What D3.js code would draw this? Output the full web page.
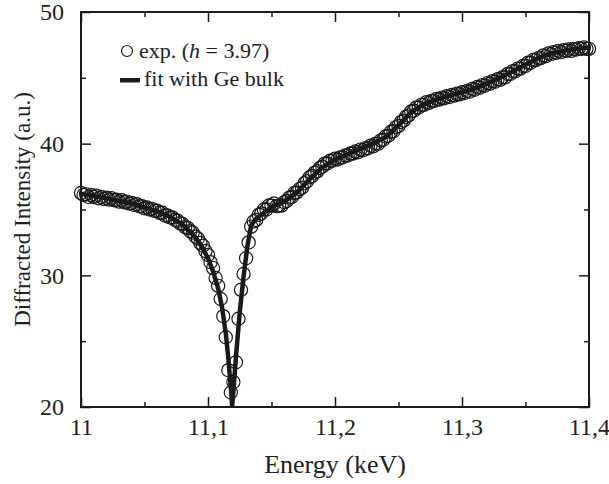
<!DOCTYPE html>
<html><head><meta charset="utf-8">
<script src="https://cdn.jsdelivr.net/npm/d3@7"></script>
<style>
html,body{margin:0;padding:0;background:#fff;}
svg{display:block;}
</style></head><body>
<svg id="chart" width="609" height="484"></svg>
<script>
// Experimental points: energy (eV) and diffracted intensity (a.u.)
const expEnergy = [
11000,11002,11004,11006,11008,11010,11012,11014,11016,11018,11020,11022,11024,11026,11028,11030,11032,11034,11036,11038,
11040,11042,11044,11046,11048,11050,11052,11054,11056,11058,11060,11062,11064,11066,11068,11070,11072,11074,11076,11078,
11080,11082,11084,11086,11088,11090,11092,11094,11096,11098,11100,11102,11104,11106,11108,11110,11112,11114,11116,11118,
11120,11122,11124,11126,11128,11130,11132,11134,11136,11138,11140,11142,11144,11146,11148,11150,11152,11154,11156,11158,
11160,11162,11164,11166,11168,11170,11172,11174,11176,11178,11180,11182,11184,11186,11188,11190,11192,11194,11196,11198,
11200,11202,11204,11206,11208,11210,11212,11214,11216,11218,11220,11222,11224,11226,11228,11230,11232,11234,11236,11238,
11240,11242,11244,11246,11248,11250,11252,11254,11256,11258,11260,11262,11264,11266,11268,11270,11272,11274,11276,11278,
11280,11282,11284,11286,11288,11290,11292,11294,11296,11298,11300,11302,11304,11306,11308,11310,11312,11314,11316,11318,
11320,11322,11324,11326,11328,11330,11332,11334,11336,11338,11340,11342,11344,11346,11348,11350,11352,11354,11356,11358,
11360,11362,11364,11366,11368,11370,11372,11374,11376,11378,11380,11382,11384,11386,11388,11390,11392,11394,11396,11398,
11400];
const expIntensity = [
36.25,36.1,36.15,35.95,36.1,35.95,36.05,35.85,35.95,35.8,35.9,35.75,35.85,35.7,35.75,35.6,35.7,35.55,35.6,35.45,
35.5,35.35,35.4,35.25,35.25,35.1,35.15,35.0,35.05,34.9,34.9,34.75,34.75,34.55,34.55,34.4,34.4,34.2,34.15,33.95,
33.9,33.65,33.6,33.35,33.25,32.95,32.8,32.45,32.25,31.85,31.55,31.0,30.55,29.8,29.2,28.2,26.9,25.3,22.8,21.1,
21.9,23.4,26.7,28.9,30.1,31.3,32.5,33.7,34.1,34.2,34.6,34.7,35.0,35.0,35.3,35.3,35.45,35.25,35.3,35.3,
35.55,35.65,35.9,35.95,36.25,36.3,36.55,36.65,37.0,37.15,37.45,37.55,37.8,37.9,38.15,38.25,38.5,38.5,38.7,38.7,
38.85,38.8,38.95,38.95,39.1,39.1,39.25,39.25,39.4,39.35,39.55,39.5,39.65,39.65,39.85,39.8,40.0,40.0,40.25,40.3,
40.55,40.6,40.9,40.95,41.25,41.35,41.65,41.75,42.05,42.15,42.45,42.5,42.75,42.75,42.95,42.95,43.15,43.1,43.25,43.25,
43.4,43.35,43.5,43.45,43.6,43.55,43.7,43.65,43.8,43.75,43.9,43.85,44.0,43.95,44.15,44.1,44.3,44.25,44.45,44.4,
44.6,44.55,44.75,44.7,44.9,44.85,45.05,45.05,45.3,45.3,45.5,45.5,45.7,45.7,45.9,45.9,46.15,46.15,46.35,46.35,
46.5,46.5,46.7,46.65,46.85,46.8,46.95,46.9,47.05,46.95,47.1,47.05,47.15,47.05,47.2,47.15,47.25,47.2,47.3,47.2,
47.2];
// Fit with Ge bulk
const fitEnergy = [11000,11020,11040,11060,11070,11080,11090,11095,11100,11104,11108,11111,11114,11116,11118,11119,
11120,11122,11125,11128,11131,11134,11137,11142,11150,11160,11170,11180,11190,11200,11210,11220,11230,11240,11250,
11260,11270,11280,11290,11300,11310,11320,11330,11340,11350,11360,11370,11380,11390,11400];
const fitIntensity = [36.2,35.85,35.45,34.85,34.45,33.85,32.9,32.2,31.3,30.3,29.0,27.6,25.6,23.7,21.4,20.1,
21.2,23.8,27.2,29.9,32.2,33.8,34.2,34.6,35.2,35.6,36.3,37.3,38.2,38.8,39.2,39.6,40.0,40.5,41.4,
42.4,43.0,43.35,43.65,43.9,44.2,44.6,45.0,45.5,46.0,46.5,46.85,47.05,47.2,47.3];
// Axes
const xMajorTicks = [11000,11100,11200,11300,11400];
const xTickLabels = ["11","11,1","11,2","11,3","11,4"];
const xMinorTicks = [11050,11150,11250,11350];
const yMajorTicks = [20,30,40,50];
const yMinorTicks = [25,35,45];

const svg = d3.select("#chart");
const L = 81, R = 589, T = 12, B = 407;
const x = d3.scaleLinear().domain([11000,11400]).range([L,R]);
const y = d3.scaleLinear().domain([20,50]).range([B,T]);
const ink = "#1a1a1a";
const FONT = "'Liberation Serif', Tinos, serif";

// fit line
const line = d3.line().x((d,i)=>x(fitEnergy[i])).y((d,i)=>y(fitIntensity[i]));
svg.append("path").datum(fitIntensity).attr("d",line)
  .attr("fill","none").attr("stroke",ink).attr("stroke-width",4.5).attr("stroke-linejoin","round");

// exp circles
svg.append("g").selectAll("circle").data(expIntensity).join("circle")
  .attr("cx",(d,i)=>x(expEnergy[i])).attr("cy",d=>y(d)).attr("r",6.6)
  .attr("fill","none").attr("stroke",ink).attr("stroke-width",1.2);

// frame
svg.append("rect").attr("x",L).attr("y",T).attr("width",R-L).attr("height",B-T)
  .attr("fill","none").attr("stroke",ink).attr("stroke-width",2);

// ticks (inward) using axes
const major = 10, minor = 5;
function styleAxis(g){ g.attr("font-family",FONT); g.select(".domain").remove(); g.selectAll("line").attr("stroke",ink).attr("stroke-width",1.5); }
svg.append("g").attr("transform",`translate(0,${B})`)
  .call(d3.axisBottom(x).tickValues(xMajorTicks).tickSizeInner(-major).tickSizeOuter(0)
    .tickFormat((d,i)=>xTickLabels[i]))
  .call(styleAxis)
  .call(g=>g.selectAll("text").attr("font-family",FONT).attr("font-size",24).attr("fill","#222").attr("y",11).attr("dy","0.71em"));
svg.append("g").attr("transform",`translate(0,${B})`)
  .call(d3.axisBottom(x).tickValues(xMinorTicks).tickSizeInner(-minor).tickSizeOuter(0).tickFormat(""))
  .call(styleAxis);
svg.append("g").attr("transform",`translate(0,${T})`)
  .call(d3.axisTop(x).tickValues(xMajorTicks).tickSizeInner(-major).tickSizeOuter(0).tickFormat(""))
  .call(styleAxis);
svg.append("g").attr("transform",`translate(0,${T})`)
  .call(d3.axisTop(x).tickValues(xMinorTicks).tickSizeInner(-minor).tickSizeOuter(0).tickFormat(""))
  .call(styleAxis);
svg.append("g").attr("transform",`translate(${L},0)`)
  .call(d3.axisLeft(y).tickValues(yMajorTicks).tickSizeInner(-major).tickSizeOuter(0).tickFormat(d3.format("d")))
  .call(styleAxis)
  .call(g=>g.selectAll("text").attr("font-family",FONT).attr("font-size",24).attr("fill","#222").attr("x",-17));
svg.append("g").attr("transform",`translate(${L},0)`)
  .call(d3.axisLeft(y).tickValues(yMinorTicks).tickSizeInner(-minor).tickSizeOuter(0).tickFormat(""))
  .call(styleAxis);
svg.append("g").attr("transform",`translate(${R},0)`)
  .call(d3.axisRight(y).tickValues(yMajorTicks).tickSizeInner(-major).tickSizeOuter(0).tickFormat(""))
  .call(styleAxis);
svg.append("g").attr("transform",`translate(${R},0)`)
  .call(d3.axisRight(y).tickValues(yMinorTicks).tickSizeInner(-minor).tickSizeOuter(0).tickFormat(""))
  .call(styleAxis);

// axis titles
svg.append("text").attr("x",(L+R)/2).attr("y",473).attr("text-anchor","middle").attr("font-family",FONT)
  .attr("font-size",26).attr("fill","#222").text("Energy (keV)");
svg.append("text").attr("transform",`translate(30,${(T+B)/2}) rotate(-90)`).attr("text-anchor","middle").attr("font-family",FONT)
  .attr("font-size",23).attr("fill","#222").text("Diffracted Intensity (a.u.)");

// legend
svg.append("circle").attr("cx",127).attr("cy",51).attr("r",5.5).attr("fill","none").attr("stroke",ink).attr("stroke-width",1.2);
const t1 = svg.append("text").attr("x",139).attr("y",58).attr("font-family",FONT).attr("font-size",22).attr("fill","#222");
t1.append("tspan").text("exp. (");
t1.append("tspan").attr("font-style","italic").text("h");
t1.append("tspan").text(" = 3.97)");
svg.append("rect").attr("x",120).attr("y",78).attr("width",20).attr("height",4.5).attr("fill",ink);
svg.append("text").attr("x",144).attr("y",86).attr("font-family",FONT).attr("font-size",22).attr("fill","#222").text("fit with Ge bulk");
</script>
</body></html>
